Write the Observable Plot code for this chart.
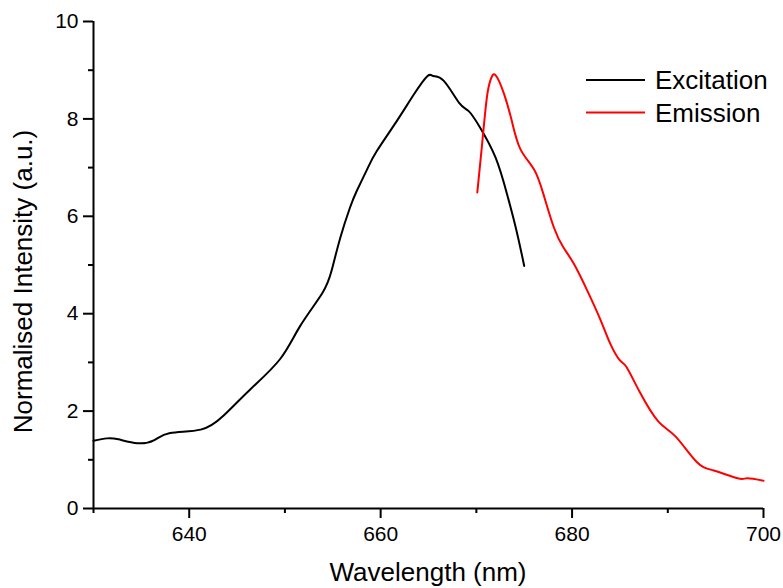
<!DOCTYPE html>
<html>
<head>
<meta charset="utf-8">
<script src="https://cdn.jsdelivr.net/npm/d3@7"></script>
<script src="https://cdn.jsdelivr.net/npm/@observablehq/plot@0.6"></script>
<style>
  html, body { margin: 0; padding: 0; background: #fff; }
  #chart { position: relative; width: 783px; height: 588px; }
  svg { font-family: "Liberation Sans", Arial, sans-serif; }
</style>
</head>
<body>
<div id="chart"></div>
<script>
// Excitation spectrum
const excitationWavelength = [630, 631.4, 632.6, 634.6, 636.3, 638.0, 641.2, 643.6, 646.4, 649.5, 651.6, 653.9, 654.9, 655.8, 656.8, 657.5, 658.6, 659.6, 661.7, 663.5, 664.9, 665.5, 666.6, 668.2, 669.2, 670.4, 672.0, 673.2, 674.2, 675.0];
const excitationIntensity  = [1.39, 1.44, 1.42, 1.34, 1.40, 1.55, 1.62, 1.91, 2.45, 3.07, 3.75, 4.42, 4.90, 5.57, 6.18, 6.52, 6.97, 7.34, 7.96, 8.51, 8.88, 8.88, 8.78, 8.33, 8.16, 7.82, 7.21, 6.46, 5.70, 4.98];

// Emission spectrum
const emissionWavelength = [670.1, 670.6, 671.1, 671.5, 672.0, 672.9, 673.7, 674.6, 676.0, 677.0, 678.1, 679.1, 680.2, 681.6, 683.0, 684.0, 685.0, 685.7, 687.1, 689.0, 690.8, 693.0, 694.8, 697.3, 698.3, 700];
const emissionIntensity  = [6.49, 7.48, 8.44, 8.81, 8.90, 8.51, 7.96, 7.38, 6.97, 6.46, 5.77, 5.36, 5.02, 4.47, 3.86, 3.38, 3.04, 2.90, 2.38, 1.79, 1.48, 0.96, 0.78, 0.62, 0.62, 0.57];

const seriesNames = ["Excitation", "Emission"];
const seriesColors = ["#000000", "#ff0000"];

const xMajorTicks = [640, 660, 680, 700];
const xMinorTicks = [630, 650, 670, 690];
const yMajorTicks = [0, 2, 4, 6, 8, 10];
const yMinorTicks = [1, 3, 5, 7, 9];

const xLabel = "Wavelength (nm)";
const yLabel = "Normalised Intensity (a.u.)";

const excitation = excitationWavelength.map((x, i) => ({x, y: excitationIntensity[i]}));
const emission = emissionWavelength.map((x, i) => ({x, y: emissionIntensity[i]}));

const plot = Plot.plot({
  width: 783,
  height: 588,
  marginLeft: 93,
  marginRight: 20,
  marginTop: 21,
  marginBottom: 80,
  style: {fontFamily: "'Liberation Sans', Arial, sans-serif", background: "#fff", color: "#000"},
  x: {domain: [630, 700]},
  y: {domain: [0, 10]},
  marks: [
    Plot.axisX({ticks: xMinorTicks, tickSize: 5, text: null, stroke: "#000", strokeWidth: 2, strokeOpacity: 1, label: null}),
    Plot.axisX({ticks: xMajorTicks, tickSize: 10, tickPadding: 8, fontSize: 21, stroke: "#000", strokeWidth: 2, strokeOpacity: 1, label: null}),
    Plot.axisY({ticks: yMinorTicks, tickSize: 5, text: null, stroke: "#000", strokeWidth: 2, strokeOpacity: 1, label: null}),
    Plot.axisY({ticks: yMajorTicks, tickSize: 10, tickPadding: 5, fontSize: 21, stroke: "#000", strokeWidth: 2, strokeOpacity: 1, label: null}),
    Plot.ruleX([630], {stroke: "#000", strokeWidth: 2}),
    Plot.ruleY([0], {stroke: "#000", strokeWidth: 2}),
    Plot.line(excitation, {x: "x", y: "y", stroke: seriesColors[0], strokeWidth: 2, curve: "natural"}),
    Plot.line(emission, {x: "x", y: "y", stroke: seriesColors[1], strokeWidth: 2, curve: "natural"})
  ]
});

const svg = d3.select(plot);
svg.selectAll("g[aria-label$='tick label'] text").attr("fill", "#000");

const xs = plot.scale("x"), ys = plot.scale("y");
const xMid = (xs.apply(630) + xs.apply(700)) / 2;

// axis titles
svg.append("text")
  .attr("x", xMid).attr("y", 581)
  .attr("text-anchor", "middle").attr("font-size", 26).attr("fill", "#000")
  .text(xLabel);
svg.append("text")
  .attr("transform", `translate(31.5,${(ys.apply(0) + ys.apply(10)) / 2 + 17}) rotate(-90)`)
  .attr("text-anchor", "middle").attr("font-size", 26).attr("fill", "#000")
  .text(yLabel);

// legend
const legend = svg.append("g").attr("aria-label", "legend");
seriesNames.forEach((name, i) => {
  const y = 80 + i * 32.5;
  legend.append("line").attr("x1", 586).attr("x2", 645).attr("y1", y).attr("y2", y)
    .attr("stroke", seriesColors[i]).attr("stroke-width", 2);
  legend.append("text").attr("x", 655).attr("y", y).attr("dy", "0.36em")
    .attr("text-anchor", "start").attr("font-size", 26).attr("fill", "#000").text(name);
});

document.getElementById("chart").appendChild(plot);
</script>
</body>
</html>
